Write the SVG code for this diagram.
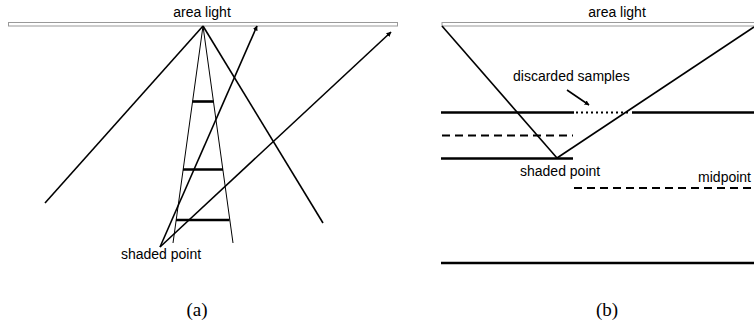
<svg xmlns="http://www.w3.org/2000/svg" width="754" height="326" viewBox="0 0 754 326">
<style>
.lbl{font-family:"Liberation Sans",Arial,sans-serif;font-size:14px;fill:#000}
.cap{font-family:"Liberation Serif","Times New Roman",serif;font-size:19px;fill:#000;text-anchor:middle}
.bar{fill:#fff;stroke:#999;stroke-width:1}
.ray{stroke:#000;stroke-width:1.6;fill:none}
.thin{stroke:#000;stroke-width:1;fill:none}
.thick{stroke:#000;stroke-width:2.6;fill:none}
.dash{stroke:#000;stroke-width:2;stroke-dasharray:8,5;fill:none}
.dot{stroke:#000;stroke-width:2;stroke-dasharray:2,3;fill:none}
</style>
<defs>
<marker id="ah" viewBox="0 0 10 10" refX="9" refY="5" markerWidth="5" markerHeight="5" orient="auto" markerUnits="userSpaceOnUse">
<path d="M0,0 L10,5 L0,10 z" fill="#000"/>
</marker>
</defs>
<g id="panel-a">
<g id="light-a">
<rect class="bar" x="8.5" y="22.5" width="389" height="3.5"/>
<text class="lbl" x="202" y="17" text-anchor="middle">area light</text>
</g>
<g id="shaded-a">
<text class="lbl" x="161" y="259" text-anchor="middle">shaded point</text>
</g>
<g id="connectors-a">
<line class="ray" x1="203" y1="26" x2="45" y2="203"/>
<line class="ray" x1="203" y1="26" x2="323" y2="223"/>
<line class="thin" x1="203" y1="26" x2="173" y2="243"/>
<line class="thin" x1="203" y1="26" x2="233" y2="243"/>
<line class="thick" x1="192.5" y1="101.5" x2="213.5" y2="101.5"/>
<line class="thick" x1="183" y1="169.5" x2="223" y2="169.5"/>
<line class="thick" x1="176" y1="220" x2="229.5" y2="220"/>
<line class="ray" x1="160" y1="247" x2="257" y2="26" marker-end="url(#ah)"/>
<line class="ray" x1="160" y1="247" x2="391" y2="32" marker-end="url(#ah)"/>
</g>
<text class="cap" x="197" y="316">(a)</text>
</g>
<g id="panel-b">
<g id="light-b">
<rect class="bar" x="442" y="22.5" width="314" height="3.5"/>
<text class="lbl" x="617" y="17" text-anchor="middle">area light</text>
</g>
<g id="discarded">
<text class="lbl" x="513" y="81">discarded samples</text>
</g>
<g id="shaded-b">
<text class="lbl" x="520" y="176">shaded point</text>
</g>
<g id="midpoint">
<text class="lbl" x="751" y="182" text-anchor="end">midpoint</text>
</g>
<g id="connectors-b">
<line class="thick" x1="441" y1="112.5" x2="574" y2="112.5"/>
<line class="dot" x1="576" y1="112.5" x2="628" y2="112.5"/>
<line class="thick" x1="632" y1="112.5" x2="754" y2="112.5"/>
<line class="dash" x1="442" y1="135.5" x2="573" y2="135.5"/>
<line class="thick" x1="441" y1="158.5" x2="573" y2="158.5"/>
<line class="dash" x1="574" y1="188" x2="754" y2="188"/>
<line class="thick" x1="441" y1="263" x2="754" y2="263"/>
<line class="ray" x1="442" y1="26" x2="557" y2="158"/>
<line class="ray" x1="557" y1="158" x2="754" y2="27"/>
<line class="ray" x1="567" y1="90" x2="589" y2="105" marker-end="url(#ah)"/>
</g>
<text class="cap" x="607" y="316">(b)</text>
</g>
</svg>
